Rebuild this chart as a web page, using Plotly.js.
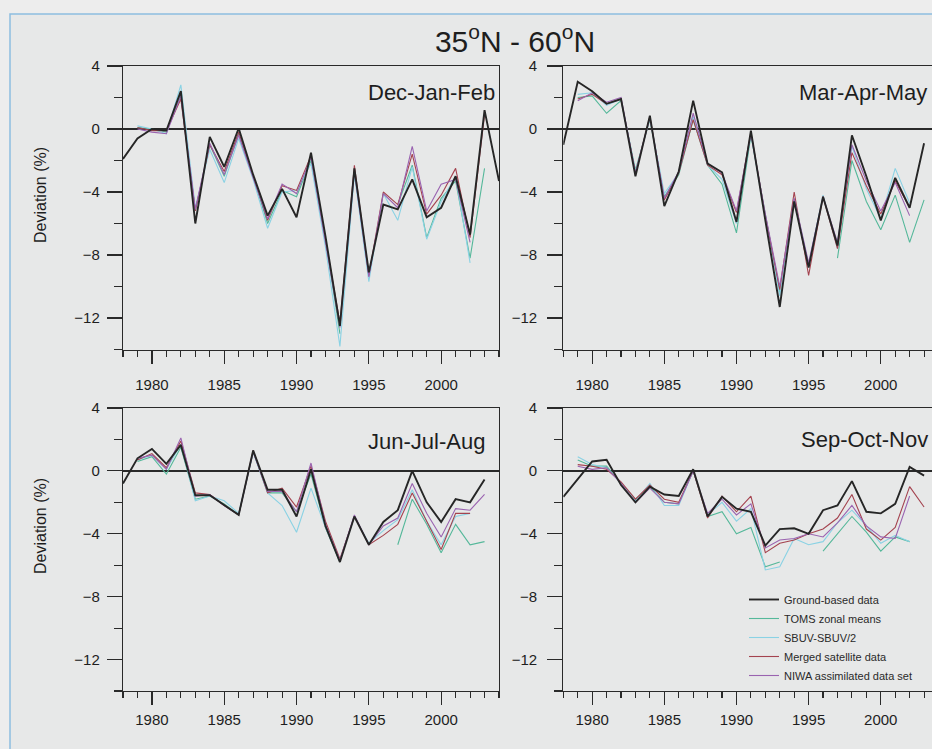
<!DOCTYPE html>
<html>
<head>
<meta charset="utf-8">
<script src="https://cdn.plot.ly/plotly-3.0.1.min.js"></script>
<style>
html,body{margin:0;padding:0;overflow:hidden;background:#ededed;}
#chart{width:960px;height:749px;}
</style>
</head>
<body>
<div id="chart"></div>
<script>
// ---------- data ----------
const years = [1978,1979,1980,1981,1982,1983,1984,1985,1986,1987,1988,1989,1990,1991,1992,1993,1994,1995,1996,1997,1998,1999,2000,2001,2002,2003,2004];
const seriesNames = ['Ground-based data','TOMS zonal means','SBUV-SBUV/2','Merged satellite data','NIWA assimilated data set'];
const seasons = ['Dec-Jan-Feb','Mar-Apr-May','Jun-Jul-Aug','Sep-Oct-Nov'];
const xTickVals = [1980,1985,1990,1995,2000];
const yTickVals = [-12,-8,-4,0,4];

const djfGround = [-1.9,-0.6,0.0,-0.1,2.4,-6.0,-0.5,-2.4,0.05,-2.9,-5.5,-3.8,-5.6,-1.5,-6.8,-12.5,-2.5,-9.1,-4.8,-5.1,-3.2,-5.6,-5.0,-3.0,-6.7,1.2,-3.3];
const djfToms   = [null,0.1,0.0,-0.2,2.2,-5.2,-1.0,-3.0,-0.3,-3.0,-6.0,-3.9,-4.3,-2.0,-7.0,-13.0,null,null,null,-4.8,-2.3,-6.9,-4.4,-3.3,-8.2,-2.5,null];
const djfSbuv   = [null,0.2,0.0,-0.3,2.8,-5.0,-1.3,-3.4,-0.6,-3.2,-6.3,-4.0,-3.9,-2.2,-7.5,-13.8,-2.9,-9.7,-4.1,-5.8,-2.4,-7.0,-4.6,-3.0,-8.5,null,null];
const djfMerged = [null,0.1,-0.1,-0.1,1.9,-5.2,-1.0,-2.7,-0.2,-3.0,-5.8,-3.6,-3.9,-1.7,-7.0,-12.3,-2.3,-9.3,-4.0,-4.8,-1.6,-5.4,-4.2,-2.5,-6.9,0.9,null];
const djfNiwa   = [null,0.0,-0.2,-0.3,2.1,-5.1,-0.9,-2.9,-0.4,-3.1,-5.7,-3.5,-4.1,-1.8,-7.2,-12.6,-2.7,-9.4,-4.1,-5.0,-1.1,-5.2,-3.5,-3.2,-7.2,null,null];

const mamGround = [-1.0,3.0,2.4,1.6,1.9,-3.0,0.85,-4.9,-2.7,1.8,-2.2,-2.75,-5.9,-0.1,-5.8,-11.3,-4.6,-8.8,-4.3,-7.4,-0.4,-3.0,-5.8,-3.1,-5.0,-0.9,null];
const mamToms   = [null,2.0,2.1,1.0,1.8,-2.6,0.6,-4.3,-2.9,0.6,-2.3,-3.5,-6.6,-0.4,-5.5,-10.4,null,null,null,-8.2,-2.0,-4.6,-6.4,-4.2,-7.2,-4.5,null];
const mamSbuv   = [null,2.2,2.3,1.5,1.9,-2.7,0.7,-4.1,-2.8,0.8,-2.3,-3.2,-6.0,-0.3,-5.6,-10.6,-4.4,-8.6,-4.2,-7.6,-1.1,-3.8,-5.7,-2.5,-4.7,null,null];
const mamMerged = [null,1.9,2.2,1.6,1.9,-2.8,0.8,-4.5,-2.8,0.6,-2.3,-2.9,-5.3,-0.2,-5.5,-10.2,-4.0,-9.3,-4.3,-7.6,-1.5,-3.6,-5.4,-3.3,-5.0,null,null];
const mamNiwa   = [null,1.8,2.3,1.7,2.0,-2.8,0.7,-4.4,-2.7,1.0,-2.2,-2.8,-5.2,-0.3,-5.4,-10.0,-4.4,-8.5,-4.3,-7.2,-1.0,-3.3,-5.2,-3.4,-5.5,null,null];

const jjaGround = [-0.8,0.8,1.4,0.45,1.65,-1.55,-1.55,-2.2,-2.8,1.3,-1.2,-1.2,-2.9,0.1,-3.5,-5.8,-2.9,-4.7,-3.25,-2.5,0.0,-2.0,-3.25,-1.8,-2.0,-0.55,null];
const jjaToms   = [null,0.6,0.9,-0.2,1.5,-1.8,-1.6,-2.1,-2.8,1.2,-1.4,-1.4,-2.6,-0.2,-3.6,-5.8,null,null,null,-4.7,-1.8,-3.4,-5.2,-3.4,-4.7,-4.5,null];
const jjaSbuv   = [null,0.7,1.0,0.1,1.7,-1.9,-1.6,-1.9,-2.7,1.2,-1.4,-2.2,-3.9,-1.1,-3.6,-5.7,-2.9,-4.6,-3.8,-3.1,-1.2,-3.2,-4.7,-2.9,-2.7,null,null];
const jjaMerged = [null,0.7,1.1,0.2,1.9,-1.4,-1.5,-2.2,-2.8,1.3,-1.4,-1.1,-2.3,0.3,-3.2,-5.6,-2.9,-4.7,-4.1,-3.4,-1.4,-3.2,-5.0,-2.7,-2.7,null,null];
const jjaNiwa   = [null,0.8,1.0,0.1,2.1,-1.6,-1.5,-2.2,-2.8,1.2,-1.3,-1.3,-2.6,0.5,-3.4,-5.7,-2.8,-4.7,-3.5,-3.0,-0.8,-2.7,-4.2,-2.4,-2.5,-1.5,null];

const sonGround = [-1.65,-0.5,0.6,0.7,-0.9,-2.0,-1.0,-1.5,-1.6,0.1,-2.9,-1.65,-2.4,-2.6,-4.75,-3.7,-3.65,-4.0,-2.5,-2.2,-0.65,-2.6,-2.7,-2.1,0.25,-0.3,null];
const sonToms   = [null,0.7,0.3,0.3,-0.8,-1.8,-1.0,-2.0,-2.1,0.0,-2.9,-2.6,-4.0,-3.6,-6.1,-5.8,null,null,-5.1,-4.0,-2.9,-3.9,-5.1,-4.2,-4.5,null,null];
const sonSbuv   = [null,0.9,0.4,0.2,-0.8,-1.9,-0.8,-2.2,-2.2,0.0,-2.8,-2.0,-3.2,-2.4,-6.3,-6.1,-4.3,-4.7,-4.5,-3.3,-2.5,-3.5,-4.6,-4.1,-4.5,null,null];
const sonMerged = [null,0.4,0.3,0.1,-0.7,-1.8,-0.9,-1.8,-2.0,0.0,-3.0,-1.6,-2.6,-1.6,-5.2,-4.6,-4.4,-4.0,-3.7,-3.0,-1.5,-3.7,-4.4,-3.6,-1.0,-2.3,null];
const sonNiwa   = [null,0.3,0.1,0.2,-0.8,-2.0,-1.1,-2.0,-2.1,0.0,-2.7,-1.8,-2.8,-2.1,-4.9,-4.4,-4.3,-4.0,-4.2,-3.3,-2.2,-3.5,-4.2,-4.3,-1.6,null,null];

// ---------- styling ----------
const W = 960, H = 749;
const px = v => v / W;
const py = v => 1 - v / H;
const colors = ['#262626','#55b89a','#8ad2e4','#a4434f','#9a63b0'];
const widths = [1.9,1.1,1.1,1.1,1.1];
const FONT = 'Liberation Sans, Arial, sans-serif';

const panels = [
  {data:[djfGround,djfToms,djfSbuv,djfMerged,djfNiwa], xa:'x',  ya:'y',  xd:[123,499],     yd:[66,349.5], lab:{x:0.995,y:0.908}},
  {data:[mamGround,mamToms,mamSbuv,mamMerged,mamNiwa], xa:'x2', ya:'y2', xd:[563.3,938.5], yd:[66,349.5], lab:{x:0.974,y:0.905}},
  {data:[jjaGround,jjaToms,jjaSbuv,jjaMerged,jjaNiwa], xa:'x3', ya:'y3', xd:[123,499],     yd:[408,691],  lab:{x:0.968,y:0.88}},
  {data:[sonGround,sonToms,sonSbuv,sonMerged,sonNiwa], xa:'x4', ya:'y4', xd:[563.3,938.5], yd:[408,691],  lab:{x:0.977,y:0.887}}
];

const traces = [];
panels.forEach((p, pi) => {
  // satellite series first, ground-based drawn on top
  [1,2,3,4,0].forEach(si => {
    traces.push({
      type:'scatter', mode:'lines', x: years, y: p.data[si],
      xaxis: p.xa, yaxis: p.ya,
      name: seriesNames[si], legendrank: si + 1,
      showlegend: pi === 3,
      line: {color: colors[si], width: widths[si]},
      connectgaps: false, hoverinfo: 'x+y+name'
    });
  });
});

function xAxis(p, top) {
  return {
    domain: [px(p.xd[0]), px(p.xd[1])], anchor: p.ya,
    range: [1978, 2004], showgrid: false, zeroline: false,
    showline: true, mirror: true, linecolor: '#2a2a2a', linewidth: 1.2,
    ticks: 'outside', tickvals: xTickVals, ticklen: 13, tickcolor: '#2a2a2a', tickwidth: 1.2,
    ticklabelstandoff: top ? 8 : 2,
    minor: {ticks:'outside', dtick:1, tick0:1978, ticklen:6, tickcolor:'#2a2a2a', tickwidth:1.1},
    tickfont: {family: FONT, size: 15, color: '#1e1e1e'}, fixedrange: true
  };
}
function yAxis(p, left) {
  return {
    domain: [py(p.yd[1]), py(p.yd[0])], anchor: p.xa,
    range: [-14, 4], showgrid: false,
    zeroline: true, zerolinecolor: '#2a2a2a', zerolinewidth: 1.4,
    showline: true, mirror: true, linecolor: '#2a2a2a', linewidth: 1.2,
    ticks: 'outside', tickvals: yTickVals, ticklen: 15, tickcolor: '#2a2a2a', tickwidth: 1.2,
    ticklabelstandoff: left ? 4 : 7,
    minor: {ticks:'outside', dtick:2, tick0:0, ticklen:8, tickcolor:'#2a2a2a', tickwidth:1.1},
    tickfont: {family: FONT, size: 15, color: '#1e1e1e'}, fixedrange: true
  };
}

const layout = {
  width: W, height: H,
  margin: {l:0, r:0, t:0, b:0},
  paper_bgcolor: '#ededed', plot_bgcolor: 'rgba(0,0,0,0)',
  font: {family: FONT, color: '#1e1e1e'},
  title: {text: '35<sup>o</sup>N - 60<sup>o</sup>N', x: px(515), xanchor: 'center', y: py(41), yanchor: 'middle',
          font: {family: FONT, size: 30, color: '#1e1e1e'}},
  showlegend: true,
  legend: {x: px(744), y: py(585), xanchor: 'left', yanchor: 'top', bgcolor: 'rgba(0,0,0,0)',
           font: {family: FONT, size: 11, color: '#2a2a2a'}, tracegroupgap: 0, traceorder: 'normal'},
  shapes: [
    {type:'rect', xref:'paper', yref:'paper', x0: px(10), x1: 1.2, y0: -0.2, y1: py(14),
     fillcolor: '#e7e8e8', line: {color: '#8dbde0', width: 1.5}, layer: 'below'}
  ],
  annotations: [
    {text:'Deviation (%)', xref:'paper', yref:'paper', x: px(40), y: py(195), textangle: -90,
     xanchor:'center', yanchor:'middle', showarrow:false, font:{family: FONT, size: 16, color:'#1e1e1e'}},
    {text:'Deviation (%)', xref:'paper', yref:'paper', x: px(40), y: py(526), textangle: -90,
     xanchor:'center', yanchor:'middle', showarrow:false, font:{family: FONT, size: 16, color:'#1e1e1e'}}
  ]
};

panels.forEach((p, i) => {
  const n = i === 0 ? '' : String(i + 1);
  layout['xaxis' + n] = xAxis(p, i < 2);
  layout['yaxis' + n] = yAxis(p, i % 2 === 0);
  layout.annotations.push({
    text: seasons[i], xref: p.xa + ' domain', yref: p.ya + ' domain',
    x: p.lab.x, y: p.lab.y, xanchor: 'right', yanchor: 'middle', showarrow: false,
    font: {family: FONT, size: 22, color: '#1e1e1e'}
  });
});

Plotly.newPlot('chart', traces, layout, {displayModeBar: false, staticPlot: true});
</script>
</body>
</html>
